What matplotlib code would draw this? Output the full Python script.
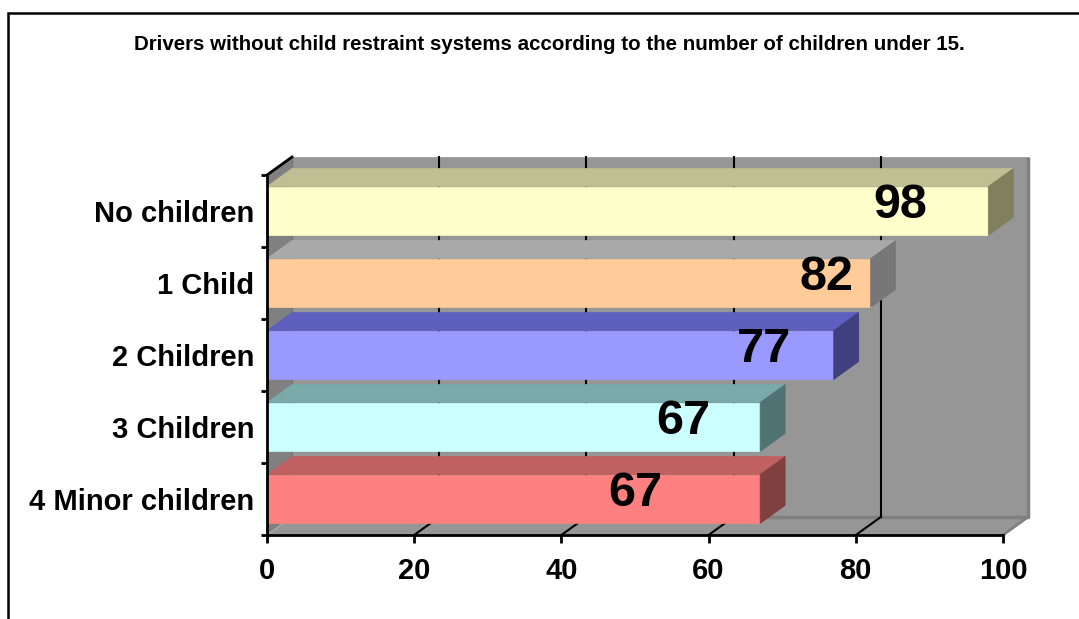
import matplotlib
matplotlib.use("Agg")
import matplotlib.pyplot as plt
from matplotlib.patches import Polygon, Rectangle

plt.rcParams['font.family'] = ['Liberation Sans', 'DejaVu Sans']

title = "Drivers without child restraint systems according to the number of children under 15."
categories = ["4 Minor children", "3 Children", "2 Children", "1 Child", "No children"]
values = [67, 67, 77, 82, 98]
xticks = [0, 20, 40, 60, 80, 100]

# face colours for each bar: front, top, right side
front_colors = ["#FF8080", "#CCFFFF", "#9999FF", "#FFCC99", "#FFFFCC"]
top_colors = ["#C06060", "#79A9A9", "#5F5FBF", "#A9A9A9", "#BFBF93"]
side_colors = ["#804040", "#507272", "#40407F", "#777777", "#80805F"]
# how far left of the bar end each value label sits
label_shift = [17, 10.5, 9.5, 6, 12]

W, H = 1079, 619
fig = plt.figure(figsize=(W / 100, H / 100), dpi=100)
ax = fig.add_axes([267 / W, (H - 535) / H, 736 / W, 360 / H])
ax.set_xlim(0, 100)
ax.set_ylim(-0.5, 4.5)

# depth of the fake 3d box in data units
dx = 25 / 7.36
dy = 0.25
bh = 0.68
wall = "#969696"
edge = "#808080"
lo, hi = -0.5, 4.5

def poly(pts, color, z, **kw):
    p = Polygon(pts, closed=True, facecolor=color, edgecolor=kw.pop("ec", color),
                lw=kw.pop("lw", 0.5), zorder=z, clip_on=False, **kw)
    ax.add_patch(p)

# walls and floor
poly([(dx, lo + dy), (100 + dx, lo + dy), (100 + dx, hi + dy), (dx, hi + dy)], wall, 1)
poly([(0, lo), (dx, lo + dy), (dx, hi + dy), (0, hi)], edge, 1)
poly([(0, lo), (100, lo), (100 + dx, lo + dy), (dx, lo + dy)], wall, 1)
ax.plot([dx, 100 + dx, 100 + dx], [lo + dy, lo + dy, hi + dy], color=edge, lw=2.5,
        zorder=2, clip_on=False, solid_capstyle="butt")
ax.plot([dx, dx], [lo + dy, hi + dy], color="#7A7A7A", lw=1, zorder=2, clip_on=False)
ax.plot([100, 100 + dx], [lo, lo + dy], color=edge, lw=2, zorder=2, clip_on=False)

# gridlines on the back wall and the floor
for t in xticks[1:-1]:
    ax.plot([t + dx, t + dx], [lo + dy, hi + dy], color="black", lw=1.5, zorder=2,
            clip_on=False)
    ax.plot([t, t + dx], [lo, lo + dy], color="black", lw=1.5, zorder=2, clip_on=False)
ax.plot([0, dx], [lo, lo + dy], color="#B0B0B0", lw=0.8, zorder=2, clip_on=False)
ax.plot([0, dx], [hi, hi + dy], color="black", lw=2, zorder=6, clip_on=False)

# bars
for i, v in enumerate(values):
    y0, y1 = i - bh / 2, i + bh / 2
    poly([(0, y0), (v, y0), (v, y1), (0, y1)], front_colors[i], 3)
    poly([(0, y1), (v, y1), (v + dx, y1 + dy), (dx, y1 + dy)], top_colors[i], 3)
    poly([(v, y0), (v + dx, y0 + dy), (v + dx, y1 + dy), (v, y1)], side_colors[i], 3)
    ax.text(v - label_shift[i], i + 0.08, str(v), ha="center", va="center",
            fontsize=35, fontweight="bold", zorder=5)

# axes
for s in ["top", "right"]:
    ax.spines[s].set_visible(False)
for s in ["left", "bottom"]:
    ax.spines[s].set_linewidth(2)
    ax.spines[s].set_zorder(6)
ax.set_facecolor("none")
ax.set_xticks(xticks)
ax.set_xticklabels([str(t) for t in xticks], fontsize=21, fontweight="bold")
ax.tick_params(axis="x", direction="out", length=5.5, width=2, pad=10)
ax.set_yticks([i - 0.5 for i in range(len(categories) + 1)])
ax.set_yticklabels([])
ax.tick_params(axis="y", which="major", direction="out", length=4, width=2)
ax.set_yticks(range(len(categories)), minor=True)
ax.set_yticklabels(categories, minor=True, fontsize=21, fontweight="bold")
ax.tick_params(axis="y", which="minor", length=0, pad=9)

fig.text(549 / W, 1 - 45 / H, title, ha="center", va="center", fontsize=14.8,
         fontweight="bold")

# outer chart frame
fig.patches.append(Rectangle((8 / W, -0.1), 1.2, 1.1 - 13 / H, transform=fig.transFigure,
                             fill=False, edgecolor="black", lw=1.8))

fig.savefig("out.png", dpi=100)
